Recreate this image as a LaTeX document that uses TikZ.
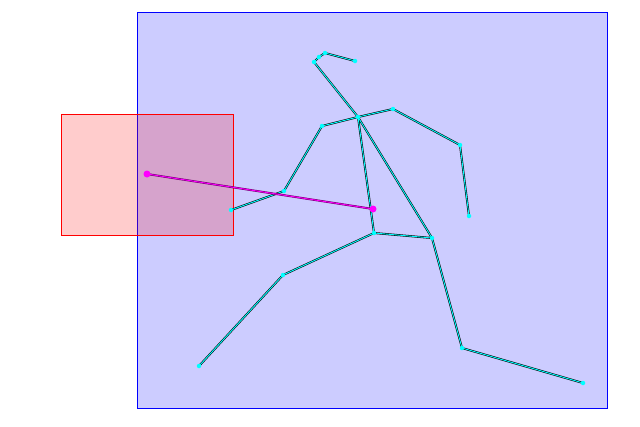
\documentclass[tikz,border=0pt]{standalone}
\definecolor{figcyan}{RGB}{0,255,255}
\definecolor{figmag}{RGB}{255,0,255}
\definecolor{figmagdark}{RGB}{110,0,110}
\begin{document}
\begin{tikzpicture}[x=1pt,y=-1pt,
  area/.style={line width=1pt},
  bonebase/.style={black,line width=2pt,line cap=round,line join=round},
  bonetop/.style={figcyan,line width=0.9pt,line cap=round,line join=round},
  joint/.style={circle,fill=figcyan,inner sep=0pt,minimum size=4.5pt},
  mdot/.style={circle,fill=figmag,inner sep=0pt,minimum size=7pt}]
\useasboundingbox (0,0) rectangle (640,426);
\draw[area,draw=blue,fill=blue,fill opacity=0.2] (137,12) rectangle (607,408);
\draw[area,draw=red,fill=red,fill opacity=0.2] (61,114) rectangle (233,235);
% joints
\coordinate (h1) at (355,61);
\coordinate (h2) at (325,53);
\coordinate (h2b) at (319,57);
\coordinate (h3) at (314,62);
\coordinate (neck) at (358,117);
\coordinate (rs) at (393,109);
\coordinate (re) at (460,145);
\coordinate (rh) at (469,216);
\coordinate (ls) at (322,126);
\coordinate (le) at (284,191);
\coordinate (lh) at (231,210);
\coordinate (hipL) at (374,233);
\coordinate (hipR) at (432,238);
\coordinate (lk) at (283,275);
\coordinate (lf) at (199,366);
\coordinate (rk) at (462,348);
\coordinate (rf) at (583,383);
\foreach \s in {bonebase,bonetop}{
  \draw[\s] (h1) -- (h2) -- (h2b) -- (h3) -- (neck);
  \draw[\s] (neck) -- (rs) -- (re) -- (rh);
  \draw[\s] (neck) -- (ls) -- (le) -- (lh);
  \draw[\s] (neck) -- (hipL) -- (hipR) -- (neck);
  \draw[\s] (hipL) -- (lk) -- (lf);
  \draw[\s] (hipR) -- (rk) -- (rf);
}
\foreach \j in {h1,h2,h2b,h3,neck,rs,re,rh,ls,le,lh,hipL,hipR,lk,lf,rk,rf}
  \node[joint] (d\j) at (\j) {};
% magenta link
\coordinate (mA) at (147,174);
\coordinate (mB) at (373,209);
\draw[figmagdark,line width=2pt] (mA) -- (mB);
\draw[figmag,line width=0.9pt] (mA) -- (mB);
\node[mdot] (m1) at (mA) {};
\node[mdot] (m2) at (mB) {};
\end{tikzpicture}
\end{document}
